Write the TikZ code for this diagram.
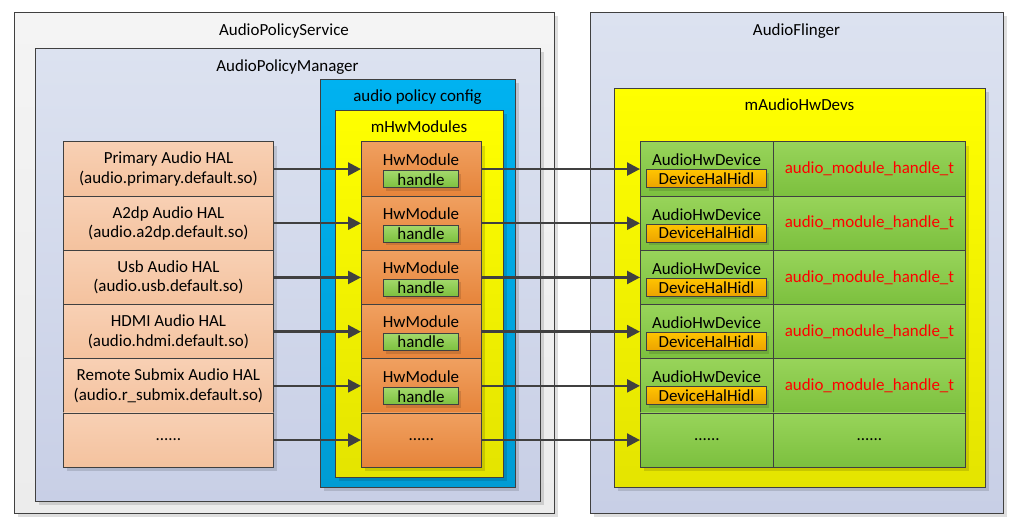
\documentclass[tikz,border=0pt]{standalone}
\usepackage{fontspec}
\setmainfont{Carlito}
\usetikzlibrary{shadows,arrows.meta}
\definecolor{bord}{HTML}{404040}
\definecolor{svcT}{HTML}{F4F4F4}\definecolor{svcB}{HTML}{ECECEC}
\definecolor{mgrT}{HTML}{DCE2F0}\definecolor{mgrB}{HTML}{C8CFE6}
\definecolor{bluT}{HTML}{00B2F0}\definecolor{bluB}{HTML}{009CD4}
\definecolor{yelT}{HTML}{FFFF00}\definecolor{yelB}{HTML}{E4E400}
\definecolor{orT}{HTML}{F0A060}\definecolor{orB}{HTML}{E6843A}
\definecolor{peT}{HTML}{F8D0B4}\definecolor{peB}{HTML}{F4C29E}
\definecolor{grT}{HTML}{98D45A}\definecolor{grB}{HTML}{7CC03E}
\definecolor{gdT}{HTML}{FFC400}\definecolor{gdB}{HTML}{ECA200}
\begin{document}
\begin{tikzpicture}[x=1bp,y=-1bp,
  font=\fontsize{17}{19.5}\selectfont,
  box/.style={draw=bord, line width=0.9bp, inner sep=0pt, anchor=north west,
    drop shadow={shadow xshift=4bp, shadow yshift=-4bp, fill=black, opacity=0.13}},
  sbox/.style={draw=bord, line width=0.9bp, inner sep=0pt, anchor=north west,
    drop shadow={shadow xshift=3bp, shadow yshift=-3bp, fill=black, opacity=0.12}},
  ttl/.style={inner sep=0pt, anchor=center},
  arr/.style={draw=bord, line width=2.4bp, -{Triangle[length=13bp,width=13bp]}},
  svc/.style={box, top color=svcT, bottom color=svcB},
  mgr/.style={box, top color=mgrT, bottom color=mgrB},
  blu/.style={box, top color=bluT, bottom color=bluB},
  yel/.style={box, top color=yelT, bottom color=yelB},
  hal/.style={box, top color=peT, bottom color=peB, minimum width=210bp, minimum height=54.2bp, align=center},
  hwm/.style={box, top color=orT, bottom color=orB, minimum width=120bp, minimum height=54.2bp},
  hnd/.style={sbox, top color=grT!90!white, bottom color=grB, minimum width=75bp, minimum height=17bp},
  dev/.style={box, top color=grT, bottom color=grB, minimum width=133bp, minimum height=54.2bp},
  hdl/.style={box, top color=grT, bottom color=grB, minimum width=192bp, minimum height=54.2bp, text=red},
  dhh/.style={sbox, top color=gdT, bottom color=gdB, minimum width=120bp, minimum height=18bp}
]
\useasboundingbox[fill=white] (0,0) rectangle (1021,527);

% containers
\node[svc, minimum width=540bp, minimum height=501bp] (service) at (14,12) {};
\node[ttl] (serviceT) at (284,31) {AudioPolicyService};
\node[mgr, minimum width=505bp, minimum height=453bp] (manager) at (35,48) {};
\node[ttl] (managerT) at (287.5,67) {AudioPolicyManager};
\node[blu, minimum width=195bp, minimum height=408bp] (config) at (320,79) {};
\node[ttl] (configT) at (417.5,97) {audio policy config};
\node[yel, minimum width=168bp, minimum height=367bp] (modules) at (335,110) {};
\node[ttl] (modulesT) at (419,127) {mHwModules};

\node[mgr, minimum width=413bp, minimum height=501bp] (flinger) at (590,12) {};
\node[ttl] (flingerT) at (796.5,31) {AudioFlinger};
\node[yel, minimum width=371bp, minimum height=399bp] (devs) at (614,88) {};
\node[ttl] (devsT) at (799.5,105) {mAudioHwDevs};

% rows
\foreach \i/\a/\b in {1/Primary Audio HAL/(audio.primary.default.so),
                      2/A2dp Audio HAL/(audio.a2dp.default.so),
                      3/Usb Audio HAL/(audio.usb.default.so),
                      4/HDMI Audio HAL/(audio.hdmi.default.so),
                      5/Remote Submix Audio HAL/(audio.r\_submix.default.so)}{
  \pgfmathsetmacro\ry{141.5+54.2*(\i-1)}
  \node[hal] (hal\i) at (63,\ry) {\a\\\b};
  \node[hwm] (hw\i) at (361,\ry) {};
  \node[ttl] (hwT\i) at (421,\ry+18) {HwModule};
  \node[hnd] (hd\i) at (383,\ry+29) {handle};
  \node[dev] (dev\i) at (640,\ry) {};
  \node[ttl] (devT\i) at (706.5,\ry+18.5) {AudioHwDevice};
  \node[dhh] (dh\i) at (646,\ry+28) {DeviceHalHidl};
  \node[hdl] (ht\i) at (773,\ry) {audio\_module\_handle\_t};
}
\pgfmathsetmacro\ry{141.5+54.2*5}
\node[hal] (hal6) at (63,\ry) {......};
\node[hwm] (hw6) at (361,\ry) {......};
\node[dev] (dev6) at (640,\ry) {......};
\node[hdl, text=black] (ht6) at (773,\ry) {......};

\foreach \i in {1,...,6}{
  \draw[arr] (hal\i.east) -- (hw\i.west);
  \draw[arr] (hw\i.east) -- (dev\i.west);
}
\end{tikzpicture}
\end{document}
